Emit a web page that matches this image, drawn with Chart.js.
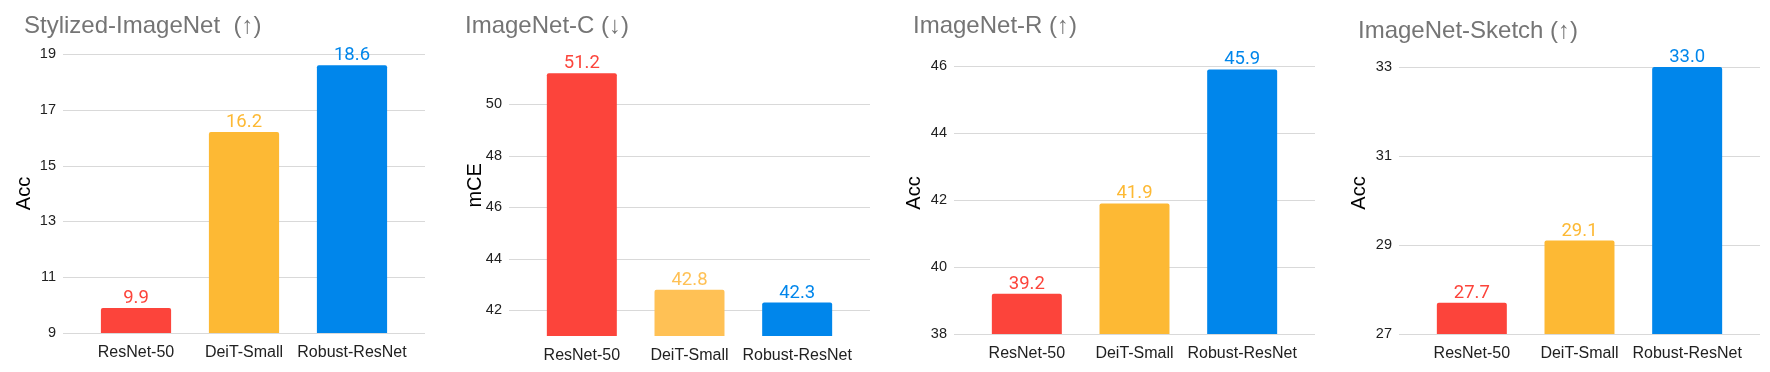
<!DOCTYPE html>
<html>
<head>
<meta charset="utf-8">
<title>Robustness benchmarks</title>
<script src="https://cdn.jsdelivr.net/npm/chart.js@4.4.1/dist/chart.umd.min.js"></script>
<style>
  body { margin: 0; background: #fff; }
  #wrap { position: relative; width: 1770px; height: 372px; }
  #wrap canvas { position: absolute; left: 0; top: 0; }
</style>
</head>
<body>
<div id="wrap">
  <canvas id="stylized" width="1770" height="372"></canvas>
  <canvas id="imagenetC" width="1770" height="372"></canvas>
  <canvas id="imagenetR" width="1770" height="372"></canvas>
  <canvas id="sketch" width="1770" height="372"></canvas>
</div>
<script>
// DATA
const models = ["ResNet-50", "DeiT-Small", "Robust-ResNet"];

const stylizedAcc = [9.9, 16.2, 18.6];
const imagenetCmCE = [51.2, 42.8, 42.3];
const imagenetRAcc = [39.2, 41.9, 45.9];
const sketchAcc = [27.7, 29.1, 33.0];

// tick values shown on each y axis
const stylizedTicks = [9, 11, 13, 15, 17, 19];
const imagenetCTicks = [42, 44, 46, 48, 50];
const imagenetRTicks = [38, 40, 42, 44, 46];
const sketchTicks = [27, 29, 31, 33];

const titles = ["Stylized-ImageNet  (\u2191)", "ImageNet-C (\u2193)", "ImageNet-R (\u2191)", "ImageNet-Sketch (\u2191)"];
const axisTitles = ["Acc", "mCE", "Acc", "Acc"];

const red = "#fc443b", orange = "#fdb934", lightOrange = "#ffc155", blue = "#0086eb";
const FONT = "'Liberation Sans', Arial, sans-serif";

// gridlines in Sheets run a bit past the bars on both sides
const wideGrid = {
  id: "wideGrid",
  beforeDatasetsDraw(chart) {
    const { ctx, chartArea, scales: { y } } = chart;
    ctx.save();
    ctx.strokeStyle = "#d9d9d9";
    ctx.lineWidth = 1;
    y.ticks.forEach(t => {
      const py = Math.round(y.getPixelForValue(t.value)) + 0.5;
      ctx.beginPath();
      ctx.moveTo(chartArea.left - 19, py);
      ctx.lineTo(chartArea.right + 19, py);
      ctx.stroke();
    });
    ctx.restore();
  }
};

// value above every bar, same colour as the bar
const valueLabels = {
  id: "valueLabels",
  afterDatasetsDraw(chart) {
    const ctx = chart.ctx;
    const ds = chart.data.datasets[0];
    chart.getDatasetMeta(0).data.forEach((bar, i) => {
      ctx.save();
      ctx.font = "18.5px Roboto";
      ctx.fillStyle = ds.backgroundColor[i];
      ctx.textAlign = "center";
      ctx.fillText(ds.data[i].toFixed(1), bar.x, bar.y - 5);
      ctx.restore();
    });
  }
};

// left aligned grey title
const panelTitle = {
  id: "panelTitle",
  afterDraw(chart, args, opts) {
    const ctx = chart.ctx;
    ctx.save();
    ctx.font = "24px " + FONT;
    ctx.fillStyle = "#757575";
    ctx.textAlign = "left";
    ctx.fillText(opts.text, opts.x, opts.y);
    ctx.restore();
  }
};

function panel(id, values, ticks, colors, title, axisTitle, box) {
  return new Chart(id, {
    type: "bar",
    data: {
      labels: models,
      datasets: [{
        data: values,
        backgroundColor: colors,
        borderRadius: 2,
        barPercentage: 0.65,
        categoryPercentage: 1
      }]
    },
    options: {
      responsive: false,
      animation: false,
      layout: {
        padding: { left: box.axisLeft, right: 1770 - box.right, top: box.top, bottom: 372 - box.bottom - 30 }
      },
      plugins: {
        legend: { display: false },
        tooltip: { enabled: false },
        panelTitle: { text: title, x: box.titleX, y: box.titleY }
      },
      scales: {
        x: {
          grid: { display: false, drawTicks: false },
          border: { display: false },
          ticks: {
            color: "#212121", font: { family: FONT, size: 16 }, padding: 10,
            maxRotation: 0, minRotation: 0, autoSkip: false
          },
          afterFit: s => { s.height = 30; }
        },
        y: {
          min: box.min,
          max: box.max,
          grid: { display: false, drawTicks: false },
          border: { display: false },
          afterBuildTicks: s => { s.ticks = ticks.map(v => ({ value: v })); },
          ticks: { color: "#212121", font: { family: FONT, size: 14.5 }, padding: 26 },
          title: { display: true, text: axisTitle, color: "#000", font: { family: FONT, size: 20 }, padding: 0 },
          afterFit: s => { s.width = box.left - box.axisLeft; }
        }
      }
    },
    plugins: [wideGrid, valueLabels, panelTitle]
  });
}

panel("stylized", stylizedAcc, stylizedTicks, [red, orange, blue], titles[0], axisTitles[0],
  { axisLeft: 12.5, left: 82, right: 406, top: 54, bottom: 333, min: 9, max: 19, titleX: 24, titleY: 33 });

panel("imagenetC", imagenetCmCE, imagenetCTicks, [red, lightOrange, blue], titles[1], axisTitles[1],
  { axisLeft: 463, left: 528, right: 851, top: 31, bottom: 336, min: 41, max: 52.7, titleX: 465, titleY: 33 });

panel("imagenetR", imagenetRAcc, imagenetRTicks, [red, orange, blue], titles[2], axisTitles[2],
  { axisLeft: 902, left: 973, right: 1296, top: 52, bottom: 334, min: 38, max: 46.42, titleX: 913, titleY: 33 });

panel("sketch", sketchAcc, sketchTicks, [red, orange, blue], titles[3], axisTitles[3],
  { axisLeft: 1347, left: 1418, right: 1741, top: 52, bottom: 334, min: 27, max: 33.34, titleX: 1358, titleY: 38 });
</script>
</body>
</html>
